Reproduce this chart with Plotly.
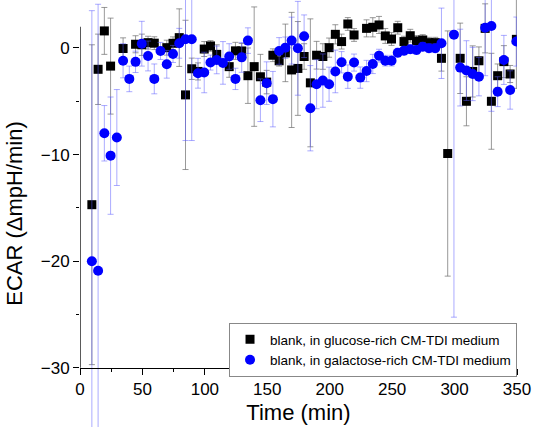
import plotly.graph_objects as go

time_min = [9.5 + 5 * i for i in range(69)]

glucose_ecar = [
    -14.7, -2.0, 1.6, -1.7, None, -0.05, None, 0.35, 0.3, 0.5,
    0.45, None, 0.03, 0.44, 0.97, -4.4, -1.95, -2.2, -0.1, 0.19,
    -0.6, None, -1.75, -0.27, -0.28, -2.6, -1.75, -2.7, -3.2, -0.68,
    -1.2, -0.46, -2.06, -1.92, -0.8, -3.27, -0.68, -0.8, 0.03, 1.28,
    0.6, 2.25, 1.22, None, 1.84, 1.94, 2.16, 1.13, 0.84, 1.9,
    0.6, 1.15, 0.66, 0.75, 0.5, 0.5, -0.97, -9.9, None, -0.97,
    -5.0, -2.2, -1.2, 1.84, -5.0, -2.6, -1.28, -2.44, 0.81,
]
glucose_err = [
    15.0, 3.3, 2.2, 4.5, 0, 1.0, 0, 0.8, 1.0, 0.6,
    0.6, 0, 0.7, 0.6, 2.7, 7.0, 1.0, 0.8, 0.7, 0.5,
    0.9, 0, 1.0, 0.8, 0.7, 2.6, 5.6, 2.1, 1.1, 0.6,
    0.5, 2.7, 5.4, 4.4, 1.2, 6.0, 1.3, 1.2, 0.9, 0.9,
    0.7, 0.6, 0.6, 0, 0.8, 0.9, 0.8, 0.7, 0.6, 0.6,
    0.5, 0.6, 0.5, 0.5, 0.5, 0.5, 1.2, 11.5, 0, 3.3,
    2.3, 2.4, 1.3, 2.3, 4.5, 1.1, 1.5, 0.8, 4.6,
]

galactose_ecar = [
    -20.0, -20.9, -8.0, -10.1, -8.4, -1.2, -2.9, -1.3, 0.4, -0.75,
    -2.9, -0.28, -1.53, -0.56, 0.44, 0.82, 0.82, -2.37, -2.3, -1.37,
    -1.12, -1.4, -0.8, -2.9, -0.88, 0.69, None, -4.9, -3.3, -4.8,
    -0.28, 0.03, 0.69, -0.03, 1.1, -5.65, -3.4, -3.06, -3.4, -2.2,
    -1.34, -2.69, -1.37, -2.78, -2.16, -1.5, -0.72, -1.19, -1.19, -0.44,
    -0.25, -0.12, -0.19, 0.12, -0.03, -0.03, 0.44, None, 1.25, -1.84,
    -2.12, -2.44, -2.69, 1.9, 2.06, -4.1, -1.12, -3.94, 0.6,
]
galactose_err = [
    23.5, 25.0, 2.6, 5.5, 4.5, 1.6, 1.2, 1.0, 2.1, 1.4,
    1.4, 0.8, 1.3, 0.8, 1.4, 9.5, 9.5, 1.4, 1.9, 0.7,
    1.3, 2.0, 1.2, 1.0, 1.4, 1.2, 0, 2.0, 2.0, 2.6,
    1.25, 1.0, 2.2, 4.4, 2.0, 4.0, 2.3, 2.5, 1.6, 2.0,
    1.0, 1.1, 0.8, 1.0, 1.0, 0.9, 0.6, 0.5, 0.5, 0.4,
    0.4, 0.4, 0.4, 0.4, 0.4, 0.4, 3.3, 0, 26.5, 3.6,
    2.8, 2.5, 1.8, 4.5, 8.0, 1.4, 2.3, 1.8, 2.3,
]

x_ticks = [0, 50, 100, 150, 200, 250, 300, 350]
y_ticks = [-30, -20, -10, 0]
y_minor = [-25, -15, -5]

FONT = "Liberation Sans, Arial, sans-serif"

# visible axis extent vs. drawing extent (error bars run past the axes, as in the original)
Y_AXIS_MIN, Y_AXIS_MAX = -30, 2
Y_VIEW = [-35.55, 4.5]
x_axis_pos = (Y_AXIS_MIN - Y_VIEW[0]) / (Y_VIEW[1] - Y_VIEW[0])

fig = go.Figure()
fig.add_trace(go.Scatter(
    x=time_min, y=glucose_ecar, mode="markers",
    name="blank, in glucose-rich CM-TDI medium",
    marker=dict(symbol="square", size=9, color="black"),
    error_y=dict(type="data", array=glucose_err, color="rgba(110,110,110,0.7)",
                 thickness=1, width=3),
))
fig.add_trace(go.Scatter(
    x=time_min, y=galactose_ecar, mode="markers",
    name="blank, in galactose-rich CM-TDI medium",
    marker=dict(symbol="circle", size=10, color="#0000ff"),
    error_y=dict(type="data", array=galactose_err, color="rgba(90,90,255,0.5)",
                 thickness=1, width=3),
))

# left axis line only over the labelled extent
fig.add_shape(type="line", xref="x", yref="y", x0=0, x1=0,
              y0=Y_AXIS_MIN, y1=Y_AXIS_MAX, line=dict(color="black", width=1.3),
              layer="above")

axis_font = dict(family=FONT, size=17, color="black")
fig.update_layout(
    width=536, height=427,
    margin=dict(l=80, r=19, t=0, b=0, autoexpand=False),
    plot_bgcolor="white", paper_bgcolor="white",
    font=dict(family=FONT, color="black"),
    showlegend=True,
    legend=dict(
        x=0.341, y=0.2436, xanchor="left", yanchor="top",
        bgcolor="white", bordercolor="#888888", borderwidth=1,
        font=dict(family=FONT, size=13.5, color="black"),
        tracegroupgap=0,
    ),
    xaxis=dict(
        range=[0, 350], tickvals=x_ticks, ticks="outside", ticklen=6, tickwidth=1.3,
        tickcolor="black", showline=True, linecolor="black", linewidth=1.3,
        anchor="free", position=x_axis_pos,
        showgrid=False, zeroline=False, tickfont=axis_font, automargin=False,
        ticklabeloverflow="allow",
        minor=dict(dtick=25, ticks="outside", ticklen=3, tickcolor="black", tickwidth=1),
        title=dict(text="Time (min)", font=dict(family=FONT, size=22, color="black"), standoff=6),
    ),
    yaxis=dict(
        range=Y_VIEW, tickvals=y_ticks, ticks="outside", ticklen=6, tickwidth=1.3,
        tickcolor="black", showline=False,
        showgrid=False, zeroline=False, tickfont=axis_font, automargin=False,
        minor=dict(tickvals=y_minor, ticks="outside", ticklen=3, tickcolor="black", tickwidth=1),
        title=dict(text="ECAR (ΔmpH/min)", font=dict(family=FONT, size=22, color="black"), standoff=12),
    ),
)

fig.write_html(
    "out.html",
    config={"displayModeBar": False},
    post_script="document.body.style.margin='0';document.body.style.overflow='hidden';",
)
